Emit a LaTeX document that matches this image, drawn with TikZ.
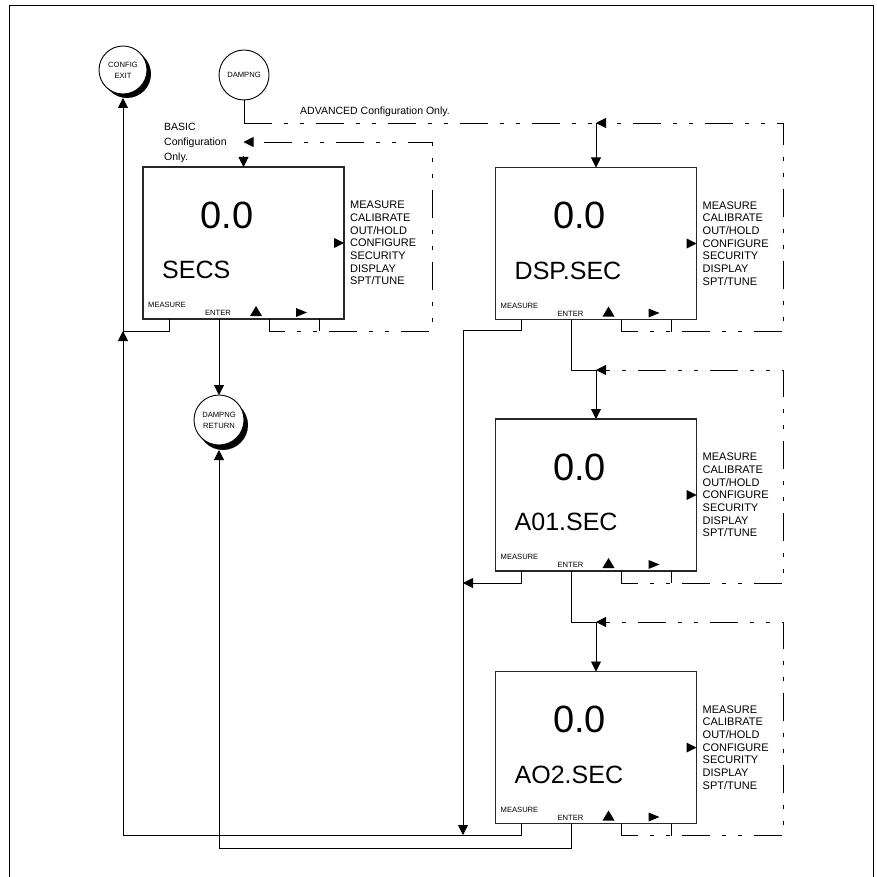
\documentclass[tikz,border=0pt]{standalone}
\usepackage{fontspec}
\setmainfont{Liberation Sans}
\usetikzlibrary{arrows.meta,calc}
\newcommand\lcdbox[3]{%
 \node[lcd] (#1) at (#2) {};
 \node[big] (#1-v) at ($(#1.north west)+(84,48)$) {0.0};
 \node[lab] (#1-l) at ($(#1.north west)+(19,103)$) {#3};
 \node[menu] (#1-menu) at ($(#1.north east)+(6,76)$) {MEASURE\\CALIBRATE\\OUT/HOLD\\CONFIGURE\\SECURITY\\DISPLAY\\SPT/TUNE};
 \fill ($(#1.north east)+(0,76)$) -- ++(-10,-5) -- ++(0,10) -- cycle;
 \node[keyl] (#1-km) at ($(#1.south west)+(24,-14)$) {MEASURE};
 \node[keyl] (#1-ke) at ($(#1.south west)+(75,-6)$) {ENTER};
 \fill ($(#1.south west)+(113,-13)$) -- ++(6,10) -- ++(-12,0) -- cycle;
 \fill ($(#1.south west)+(153,-11)$) -- ++(11,4.5) -- ++(-11,4.5) -- cycle;
 \coordinate (#1-m) at ($(#1.south west)+(26,0)$);
 \coordinate (#1-e) at ($(#1.south west)+(76,0)$);
 \coordinate (#1-u) at ($(#1.south west)+(126,0)$);
 \coordinate (#1-r) at ($(#1.south west)+(176,0)$);
 \coordinate (#1-mb) at ($(#1-m)+(0,12)$);
 \coordinate (#1-ub) at ($(#1-u)+(0,12)$);
 \coordinate (#1-rb) at ($(#1-r)+(0,12)$);
}
\begin{document}
\begin{tikzpicture}[x=1pt,y=-1pt,
  conn/.style={line width=0.9pt},
  arr/.style={-{Triangle[length=10pt,width=10pt]}},
  dd/.style={dash pattern=on 28pt off 12pt on 4pt off 12pt on 4pt off 12pt},
  lcd/.style={draw=black!85, line width=1.1pt, minimum width=201pt, minimum height=152pt, inner sep=0pt, outer sep=0pt},
  circ/.style={circle, draw, fill=white, line width=0.9pt, minimum size=48pt, inner sep=0pt, outer sep=0pt, align=center, font=\fontsize{7.6}{11}\selectfont},
  big/.style={font=\fontsize{38}{38}\selectfont, inner sep=0pt},
  lab/.style={font=\fontsize{25}{25}\selectfont, inner sep=0pt, anchor=west},
  menu/.style={font=\fontsize{11}{12.7}\selectfont, inner sep=0pt, anchor=west, align=left},
  keyl/.style={font=\fontsize{7.6}{8}\selectfont, inner sep=0pt},
  note/.style={font=\fontsize{10.5}{15}\selectfont, inner sep=0pt, align=left}
]
\useasboundingbox (0,0) rectangle (877,877);
\draw[line width=1pt] (9,877) -- (9,6) -- (873,6) -- (873,877);

% circles
\coordinate (cfgc) at (123,70);
\fill (cfgc) ++(4,4) circle[radius=24];
\node[circ] (cfg) at (cfgc) {CONFIG\\EXIT};
\node[circ, minimum size=50pt] (damp) at (244,75) {DAMPNG};
\coordinate (drc) at (219,420);
\fill (drc) ++(4,5) circle[radius=25];
\node[circ, minimum size=50pt] (dret) at (drc) {DAMPNG\\RETURN};

% boxes
\lcdbox{secs}{243.5,243}{SECS}
\lcdbox{dsp}{596,243.5}{DSP.SEC}
\lcdbox{aoa}{596,495}{A01.SEC}
\lcdbox{aob}{596,747.5}{AO2.SEC}

% texts
\node[note, anchor=north west] (basic) at (164,123) {BASIC\\Configuration\\Only.};
\node[note, anchor=base west] (adv) at (300,115) {ADVANCED Configuration Only.};

% helper coordinates
\coordinate (jc) at (123,331);
\coordinate (jb) at (123,835);
\coordinate (jx) at (463,330);
\coordinate (jd) at (219,848);
\coordinate (advy) at (0,123);
\coordinate (basy) at (0,142);
\coordinate (bx) at (432,0);
\coordinate (rx) at (783,0);
\coordinate (dspin) at (dsp.north |- advy);
\coordinate (aoay) at (0,370);
\coordinate (aoain) at (aoa.north |- aoay);
\coordinate (aoby) at (0,622);
\coordinate (aobin) at (aob.north |- aoby);
\coordinate (secstop) at ($(secs.north)+(0,-11)$);

% MEASURE returns
\draw[conn] (secs-m) |- (jc);
\draw[conn,arr] (aob-m) |- (jb) -- (jc);
\draw[conn,arr,shorten >=4pt] (jc) -- (cfg.south);
\draw[conn] (dsp-m) |- (jx);
\draw[conn,arr] (jx) -- (jx |- jb);
\draw[conn,arr] (aoa-m) -- (aoa-mb) -- (jx |- aoa-mb);

% ENTER paths
\draw[conn,arr] (secs-e) -- (dret.north);
\draw[conn,arr,shorten >=5pt] (aob-e) |- (jd) -- (dret.south);
\draw[conn] (dsp-e) |- (aoain);
\draw[conn] (aoa-e) |- (aobin);

% DAMPNG advanced line
\draw[conn] (damp.south) -- (damp.south |- advy);
\draw[conn,dd] (damp.south |- advy) -- (dspin);

% dash-dot loops
\draw[conn,dd,arr] (secs-u) -- (secs-ub) -| (bx |- basy) -- (secs.north |- basy);
\draw[conn] (secs-r) -- (secs-rb);
\draw[conn,arr] (secstop) -- (secs.north);

\draw[conn,dd,arr] (dsp-u) -- (dsp-ub) -| (rx |- advy) -- (dspin);
\draw[conn] (dsp-r) -- (dsp-rb);
\draw[conn,arr] (dspin) -- (dsp.north);

\draw[conn,dd,arr] (aoa-u) -- (aoa-ub) -| (rx |- aoay) -- (aoain);
\draw[conn] (aoa-r) -- (aoa-rb);
\draw[conn,arr] (aoain) -- (aoa.north);

\draw[conn,dd,arr] (aob-u) -- (aob-ub) -| (rx |- aoby) -- (aobin);
\draw[conn] (aob-r) -- (aob-rb);
\draw[conn,arr] (aobin) -- (aob.north);
\end{tikzpicture}
\end{document}
